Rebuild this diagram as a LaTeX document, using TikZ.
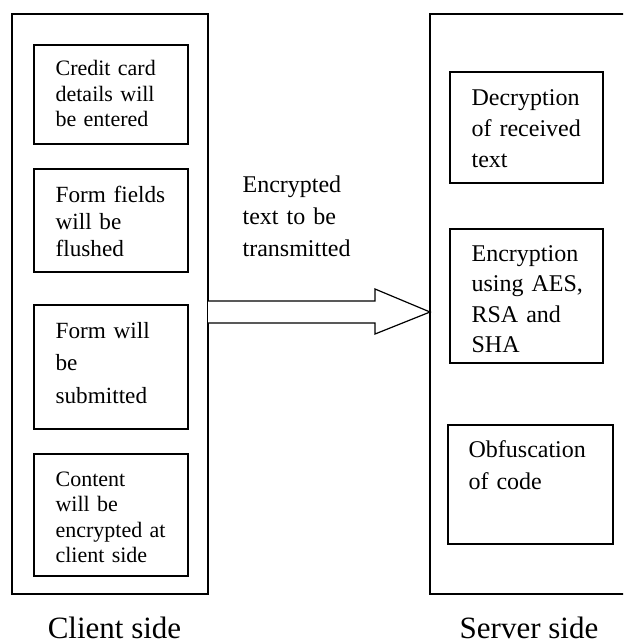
\documentclass[tikz,border=0pt]{standalone}
\usepackage{fontspec}
\setmainfont{Liberation Serif}
\begin{document}
\begin{tikzpicture}[x=1pt,y=-1pt,line width=1.2pt,
  panel/.style={draw,rectangle,inner sep=0pt,outer sep=0pt},
  box/.style={draw,rectangle,inner sep=0pt,outer sep=0pt},
  txt/.style={inner sep=0pt,anchor=base west,align=left,text width=150pt,
    font=\fontsize{24}{#1}\selectfont},
  midtxt/.style={inner sep=0pt,anchor=base west,align=left,text width=150pt,
    font=\fontsize{23.2}{#1}\selectfont},
  smalltxt/.style={inner sep=0pt,anchor=base west,align=left,text width=150pt,
    font=\fontsize{22}{#1}\selectfont},
  caption/.style={inner sep=0pt,anchor=base,font=\fontsize{31}{36}\selectfont},
  bigarrow/.style={draw,fill=white,line join=miter}]
\clip (0,0) rectangle (623,644);
\fill[white] (0,0) rectangle (623,644);

% client side panel and its steps
\node[panel,minimum width=196pt,minimum height=580pt] (client) at (110,304) {};
\node[box,minimum width=154pt,minimum height=99pt]  (c1) at (111,94.5) {};
\node[box,minimum width=154pt,minimum height=103pt] (c2) at (111,220.5) {};
\node[box,minimum width=154pt,minimum height=124pt] (c3) at (111,367) {};
\node[box,minimum width=154pt,minimum height=122pt] (c4) at (111,515) {};

\node[smalltxt=25.5] (t1) at (55,76) {Credit card\\details will\\be entered};
\node[midtxt=26.5] (t2) at (55,203) {Form fields\\will be\\flushed};
\node[midtxt=32.5] (t3) at (55,338) {Form will\\be\\submitted};
\node[smalltxt=25.6] (t4) at (55,486) {Content\\will be\\encrypted at\\client side};

% server side panel (runs off the right edge)
\node[panel,minimum width=210pt,minimum height=580pt] (server) at (535,304) {};
\node[box,minimum width=153pt,minimum height=111pt] (s1) at (526.5,127.5) {};
\node[box,minimum width=153pt,minimum height=134pt] (s2) at (526.5,296) {};
\node[box,minimum width=165pt,minimum height=119pt] (s3) at (530.5,484.5) {};

\node[txt=31] (u1) at (471,106) {Decryption\\of received\\text};
\node[txt=30.5] (u2) at (471,261) {Encryption\\using AES,\\RSA and\\SHA};
\node[txt=32] (u3) at (468,457) {Obfuscation\\of code};

% block arrow from client to server
\draw[bigarrow] (client.east |- 0,301) -- (375,301) -- (375,289)
  -- (server.west |- 0,312) -- (375,334) -- (375,323) -- (client.east |- 0,323);
\node[txt=31.5] (lbl) at (242,193) {Encrypted\\text to be\\transmitted};

% captions
\node[caption] (capc) at (114.5,638) {Client side};
\node[caption] (caps) at (529,638) {Server side};
\end{tikzpicture}
\end{document}
